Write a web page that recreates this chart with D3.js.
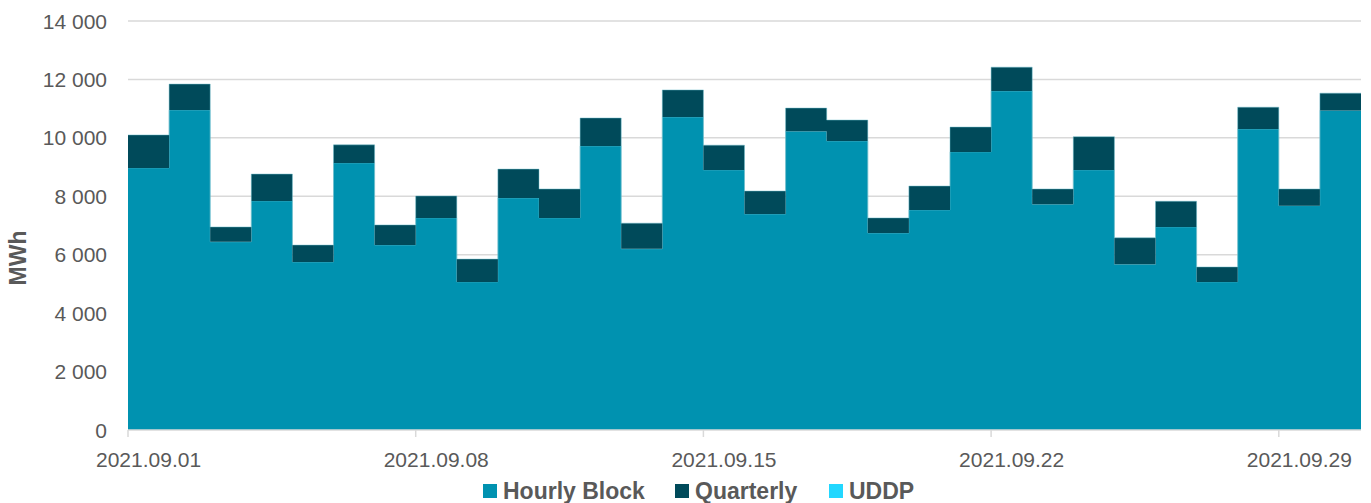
<!DOCTYPE html>
<html>
<head>
<meta charset="utf-8">
<script src="https://cdn.jsdelivr.net/npm/d3@7"></script>
<style>
  html, body { margin: 0; padding: 0; background: #fff; }
  svg { display: block; font-family: "Liberation Sans", Arial, sans-serif; }
</style>
</head>
<body>
<svg id="chart" width="1371" height="503"></svg>
<script>
// daily traded volume, September 2021 (MWh)
var days = d3.range(1, 31).map(function(d) { return new Date(2021, 8, d); });
var hourlyBlock = [8970, 10950, 6440, 7840, 5750, 9140, 6330, 7260, 5070, 7940,
                   7260, 9720, 6200, 10710, 8900, 7390, 10230, 9890, 6740, 7530,
                   9520, 11600, 7730, 8900, 5670, 6950, 5070, 10300, 7680, 10940];
var quarterly = [1130, 890, 510, 920, 580, 620, 690, 750, 780, 990,
                 990, 960, 880, 930, 850, 790, 790, 720, 520, 820,
                 850, 820, 520, 1140, 910, 880, 510, 750, 570, 590];
var uddp = d3.range(30).map(function() { return 0; });
var seriesNames = ['Hourly Block', 'Quarterly', 'UDDP'];
var seriesColors = ['#0092b0', '#004a5a', '#22d7ff'];
var yTicks = [0, 2000, 4000, 6000, 8000, 10000, 12000, 14000];
var xTickDays = [1, 8, 15, 22, 29];

var svg = d3.select('#chart');
var margin = { left: 128, right: 10, top: 21, bottom: 73 };
var width = 1371 - margin.left - margin.right;
var height = 503 - margin.top - margin.bottom;
var textColor = '#595959';
var endDate = new Date(2021, 9, 1);

var x = d3.scaleTime()
  .domain([new Date(2021, 8, 1), endDate])
  .range([margin.left, margin.left + width]);
var y = d3.scaleLinear()
  .domain([0, 14000])
  .range([margin.top + height, margin.top]);

// gridlines
svg.append('g').selectAll('line')
  .data(yTicks.slice(1))
  .enter().append('line')
  .attr('x1', margin.left).attr('x2', margin.left + width)
  .attr('y1', function(d) { return y(d); })
  .attr('y2', function(d) { return y(d); })
  .attr('stroke', '#d9d9d9')
  .attr('stroke-width', 1.5);

// stack the series; repeat the last day at the end date so the step covers it
var rows = days.map(function(d, i) {
  return { date: d, 'Hourly Block': hourlyBlock[i], 'Quarterly': quarterly[i], 'UDDP': uddp[i] };
});
rows.push(Object.assign({}, rows[rows.length - 1], { date: endDate }));
var stacked = d3.stack().keys(seriesNames)(rows);

var area = d3.area()
  .curve(d3.curveStepAfter)
  .x(function(d) { return x(d.data.date); })
  .y0(function(d) { return y(d[0]); })
  .y1(function(d) { return y(d[1]); });
var topLine = d3.line()
  .curve(d3.curveStepAfter)
  .x(function(d) { return x(d.data.date); })
  .y(function(d) { return y(d[1]); });

var layers = svg.append('g').selectAll('g')
  .data(stacked)
  .enter().append('g');
layers.append('path')
  .attr('d', area)
  .attr('fill', function(s, i) { return seriesColors[i]; });
layers.filter(function(s, i) { return i < 2; })
  .append('path')
  .attr('d', topLine)
  .attr('fill', 'none')
  .attr('stroke', 'rgba(110,190,205,0.6)')
  .attr('stroke-width', 0.8);

// y axis labels
svg.append('g').selectAll('text')
  .data(yTicks)
  .enter().append('text')
  .attr('x', 107)
  .attr('y', function(d) { return y(d); })
  .attr('dy', '0.36em')
  .attr('text-anchor', 'end')
  .attr('fill', textColor)
  .style('font-size', '21px')
  .text(function(d) { return d3.format(',')(d).replace(/,/g, ' '); });

// x axis line and ticks
var base = y(0);
svg.append('line')
  .attr('x1', margin.left).attr('x2', margin.left + width)
  .attr('y1', base).attr('y2', base)
  .attr('stroke', '#d9d9d9').attr('stroke-width', 1.5);

var tickDates = xTickDays.map(function(d) { return new Date(2021, 8, d); });
svg.append('g').selectAll('line')
  .data(tickDates)
  .enter().append('line')
  .attr('x1', function(d) { return x(d); })
  .attr('x2', function(d) { return x(d); })
  .attr('y1', base).attr('y2', base + 7)
  .attr('stroke', '#d9d9d9').attr('stroke-width', 1.5);

var fmt = d3.timeFormat('%Y.%m.%d');
svg.append('g').selectAll('text')
  .data(tickDates)
  .enter().append('text')
  .attr('x', function(d) { return (x(d) + x(d3.timeDay.offset(d, 1))) / 2; })
  .attr('y', 467)
  .attr('text-anchor', 'middle')
  .attr('fill', textColor)
  .style('font-size', '21px')
  .text(fmt);

// y axis title
svg.append('text')
  .attr('transform', 'translate(26,258) rotate(-90)')
  .attr('text-anchor', 'middle')
  .attr('fill', textColor)
  .style('font-size', '23px')
  .style('font-weight', 'bold')
  .text('MWh');

// legend
var legendX = [483, 675, 829];
var legend = svg.append('g').selectAll('g')
  .data(seriesNames)
  .enter().append('g')
  .attr('transform', function(d, i) { return 'translate(' + legendX[i] + ',0)'; });
legend.append('rect')
  .attr('x', 0).attr('y', 484)
  .attr('width', 14).attr('height', 14)
  .attr('fill', function(d, i) { return seriesColors[i]; });
legend.append('text')
  .attr('x', 20).attr('y', 499)
  .attr('fill', textColor)
  .style('font-size', '23px')
  .style('font-weight', 'bold')
  .text(function(d) { return d; });
</script>
</body>
</html>
